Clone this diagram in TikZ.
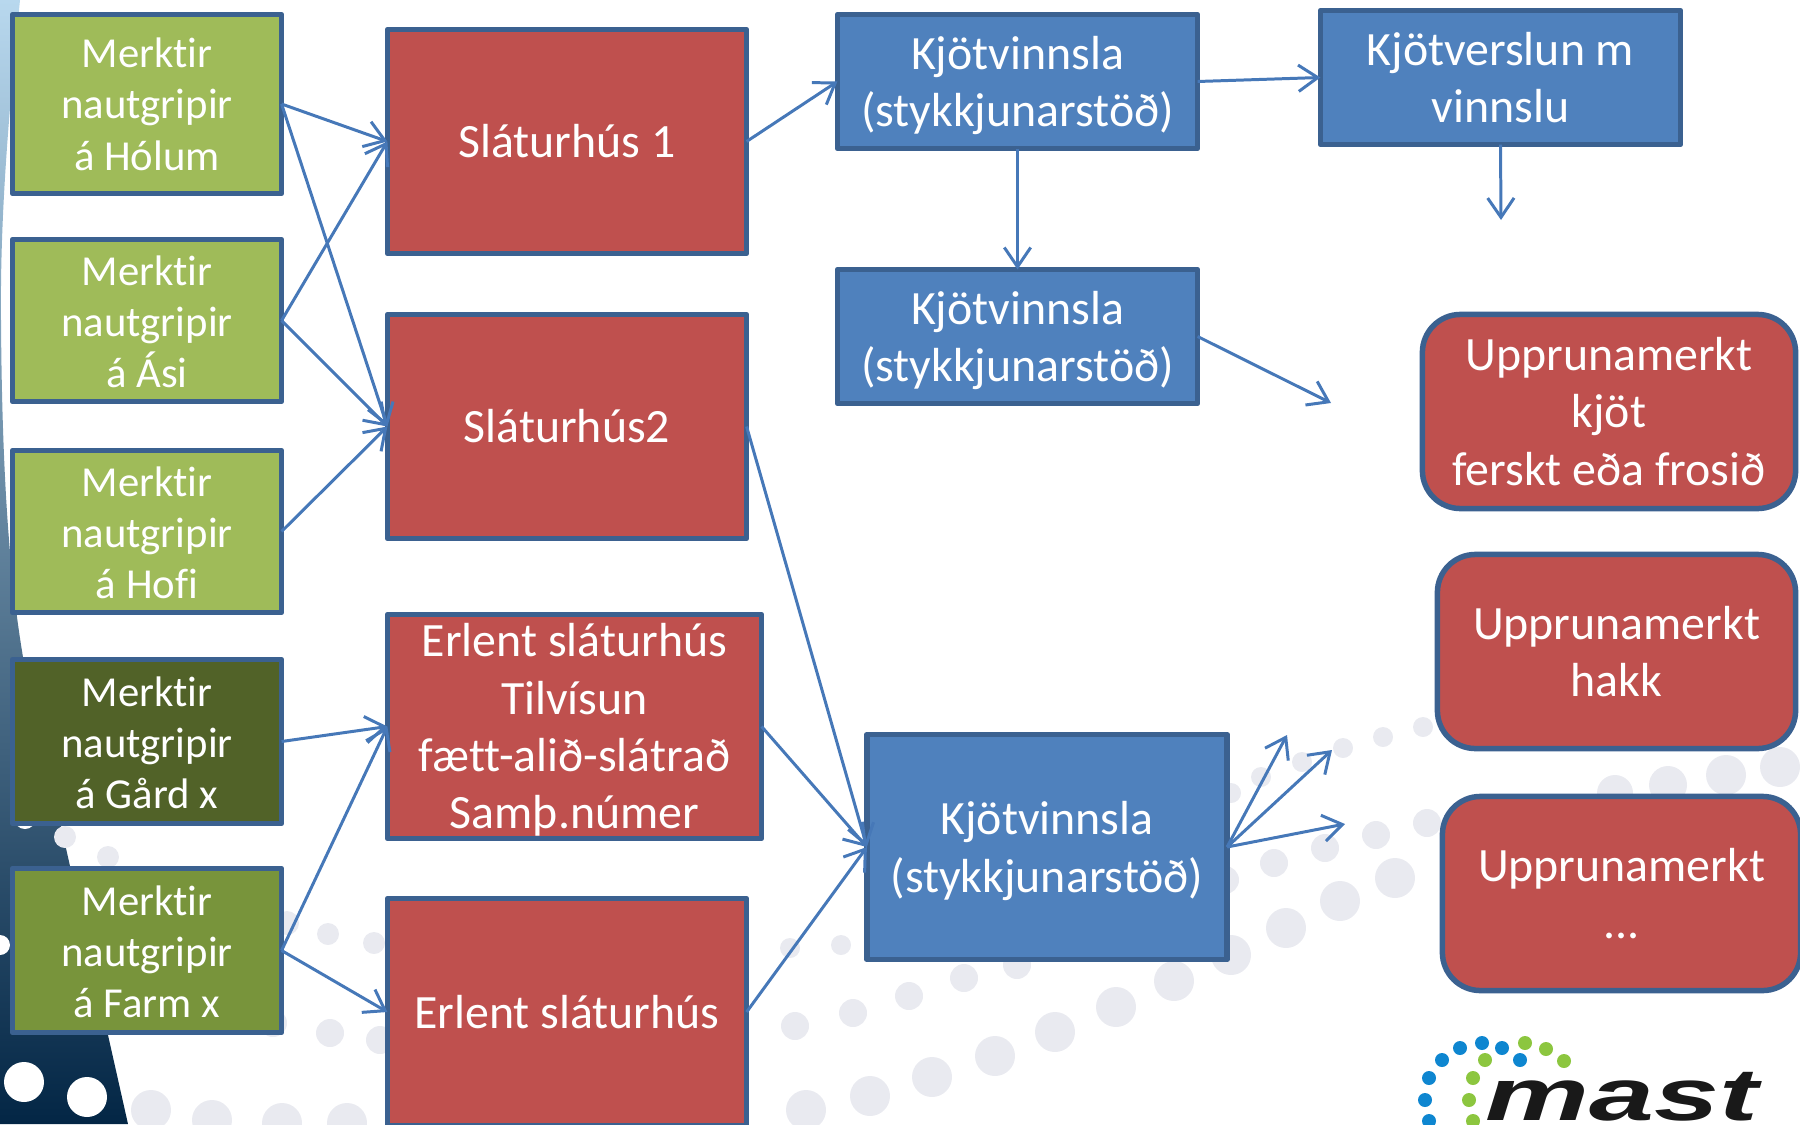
\documentclass[tikz,border=0pt]{standalone}
\usepackage{fontspec}
\setmainfont{Carlito}[Ligatures=NoCommon]
\newfontfamily\logofont{Liberation Sans}
\usetikzlibrary{arrows.meta}

\definecolor{edgeblue}{HTML}{3B6190}
\definecolor{linkblue}{HTML}{4678B8}
\definecolor{grnlight}{HTML}{9FBB59}
\definecolor{grndark}{HTML}{516228}
\definecolor{grnmid}{HTML}{78943B}
\definecolor{cellred}{HTML}{BF504E}
\definecolor{cellblue}{HTML}{4F81BD}
\definecolor{dotgrey}{HTML}{E9EAF0}
\definecolor{logoblue}{HTML}{0E86D0}
\definecolor{logogreen}{HTML}{8CC63F}
\definecolor{wedgetop}{HTML}{B8D8EE}
\definecolor{wedgemid}{HTML}{166CA1}
\definecolor{wedgelow}{HTML}{032645}

% pushes a block of lines down inside its box
\newcommand{\topgap}[1]{\rule{0pt}{#1}}

\tikzset{
  cell/.style={draw=edgeblue, line width=0.055cm, line join=round, outer sep=0pt, inner sep=0pt, align=center, text=white},
  grnbox/.style={cell, minimum width=2.69cm, font=\fontsize{12.15}{14.6}\selectfont},
  redbox/.style={cell, fill=cellred, minimum height=2.24cm, font=\fontsize{13.6}{16.3}\selectfont},
  blubox/.style={cell, fill=cellblue, minimum width=3.6cm, font=\fontsize{13.6}{16.3}\selectfont},
  upbox/.style={redbox, rounded corners=0.38cm, minimum height=1.94cm},
  conn/.style={-{Straight Barb[length=5.5pt,width=7.5pt]}, linkblue, line width=0.85pt},
}

\begin{document}
\begin{tikzpicture}[x=0.01cm,y=-0.01cm]
\useasboundingbox (0,0) rectangle (1800,1124);

% backdrop
\shade[top color=wedgetop, middle color=wedgemid, bottom color=wedgelow]
  (0,0) -- (20,0) .. controls (8,120) and (0,220) .. (1,320) .. controls (2,480) and (10,580) .. (23,657)
  -- (128,1124) -- (0,1124) -- cycle;
\foreach \x/\y/\r in {24/1082/20, 87/1097/20, 0/945/10, 25/818/11}
  \fill[white] (\x,\y) circle[radius=\r];
\foreach \x/\y/\r in {65/837/11, 108/857/11, 287/923/12, 328/934/11, 374/943/11, 273/1023/14, 330/1033/14, 380/1040/14,
    151/1110/20, 212/1120/20, 282/1123/20, 347/1123/20,
    806/1110/20, 870/1096/20, 932/1077/20, 995/1056/20, 1055/1032/20, 1116/1007/20, 1174/981/20, 1231/955/20, 1286/928/20, 1340/901/20, 1395/878/20,
    790/948/10, 841/945/10, 795/1026/14, 853/1013/14, 909/996/14, 964/978/14, 1017/965/14, 1225/880/14, 1274/863/14, 1325/848/14, 1376/835/14, 1427/823/14,
    1231/793/10, 1261/777/10, 1302/762/10, 1343/748/10, 1383/737/10, 1423/727/10,
    1615/793/18, 1668/785/19, 1726/775/20, 1780/767/20}
  \fill[dotgrey] (\x,\y) circle[radius=\r];

% logo
\foreach \x/\y in {1442/1060, 1460/1048, 1482/1043, 1502/1048, 1520/1060, 1429/1078, 1425/1100, 1429/1121}
  \fill[logoblue] (\x,\y) circle[radius=7];
\foreach \x/\y in {1525/1043, 1546/1049, 1564/1061, 1485/1060, 1473/1078, 1469/1100, 1473/1121}
  \fill[logogreen] (\x,\y) circle[radius=7];
\node (logo) at (1622,1120) [anchor=base, xscale=1.58, yscale=1, transform shape, inner sep=0pt, text=black!90]
  {\logofont\bfseries\itshape\fontsize{21}{21}\selectfont mast};

% farms
\node[grnbox, fill=grnlight, minimum height=1.79cm] (farm1) at (147,104) {Merktir\\nautgripir\\á Hólum};
\node[grnbox, fill=grnlight, minimum height=1.62cm] (farm2) at (147,320.5) {\topgap{9.2pt}Merktir\\nautgripir\\á Ási};
\node[grnbox, fill=grnlight, minimum height=1.62cm] (farm3) at (147,531.5) {\topgap{9.2pt}Merktir\\nautgripir\\á Hofi};
\node[grnbox, fill=grndark, minimum height=1.64cm] (farm4) at (147,741.5) {\topgap{9.2pt}Merktir\\nautgripir\\á Gård x};
\node[grnbox, fill=grnmid, minimum height=1.64cm] (farm5) at (147,950.5) {\topgap{9.2pt}Merktir\\nautgripir\\á Farm x};

% slaughterhouses
\node[redbox, minimum width=3.59cm] (slat1) at (567,141.5) {Sláturhús 1};
\node[redbox, minimum width=3.59cm] (slat2) at (567,426.5) {Sláturhús2};
\node[redbox, minimum width=3.74cm] (slat3) at (574.5,726.5) {\topgap{11.4pt}Erlent sláturhús\\Tilvísun\\fætt-alið-slátrað\\Samþ.númer};
\node[redbox, minimum width=3.59cm, minimum height=2.27cm] (slat4) at (567,1012) {Erlent sláturhús};

% processing
\node[blubox, minimum height=1.34cm] (proc1) at (1017.5,81.5) {\topgap{11.7pt}Kjötvinnsla\\(stykkjunarstöð)};
\node[blubox, minimum height=1.34cm] (proc2) at (1017.5,336.5) {\topgap{11.7pt}Kjötvinnsla\\(stykkjunarstöð)};
\node[blubox, minimum height=1.34cm] (shop) at (1500.5,77.5) {Kjötverslun m\\vinnslu};
\node[blubox, minimum height=2.25cm] (proc3) at (1047,847) {\topgap{11.7pt}Kjötvinnsla\\(stykkjunarstöð)};

% products
\node[upbox, minimum width=3.73cm] (prod1) at (1609,411.5) {Upprunamerkt\\kjöt\\ferskt eða frosið};
\node[upbox, minimum width=3.58cm] (prod2) at (1616.5,651.5) {Upprunamerkt\\hakk};
\node[upbox, minimum width=3.58cm] (prod3) at (1621.5,893.5) {Upprunamerkt\\...};

\coordinate (out1) at (1501,220);
\coordinate (out2) at (1331,403);
\coordinate (out3) at (1287,735);
\coordinate (out4) at (1332,750);
\coordinate (out5) at (1345,824);

\draw[conn] (farm1.east) -- (slat1.west);
\draw[conn] (farm1.east) -- (slat2.west);
\draw[conn] (farm2.east) -- (slat1.west);
\draw[conn] (farm2.east) -- (slat2.west);
\draw[conn] (farm3.east) -- (slat2.west);
\draw[conn] (farm4.east) -- (slat3.west);
\draw[conn] (farm5.east) -- (slat3.west);
\draw[conn] (farm5.east) -- (slat4.west);
\draw[conn] (slat1.east) -- (proc1.west);
\draw[conn] (slat2.east) -- (proc3.west);
\draw[conn] (slat3.east) -- (proc3.west);
\draw[conn] (slat4.east) -- (proc3.west);
\draw[conn] (proc1.east) -- (shop.west);
\draw[conn] (proc1.south) -- (proc2.north);
\draw[conn] (shop.south) -- (out1);
\draw[conn] (proc2.east) -- (out2);
\draw[conn] (proc3.east) -- (out3);
\draw[conn] (proc3.east) -- (out4);
\draw[conn] (proc3.east) -- (out5);
\end{tikzpicture}
\end{document}
